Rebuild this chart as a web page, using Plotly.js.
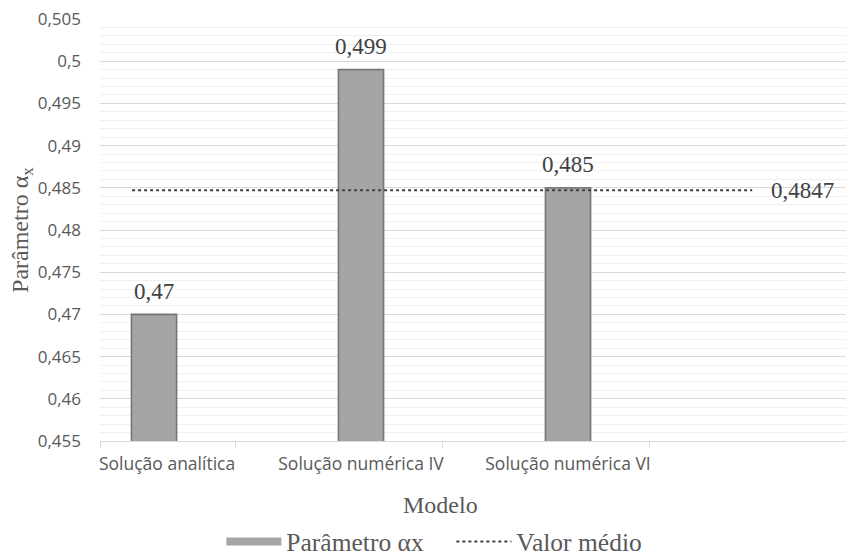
<!DOCTYPE html>
<html>
<head>
<meta charset="utf-8">
<script src="https://cdn.plot.ly/plotly-3.0.1.min.js"></script>
<style>html,body{margin:0;padding:0;background:#fff;}#chart{width:846px;height:558px;}</style>
</head>
<body>
<div id="chart"></div>
<script>
// ---- data ----
const categories = ["Solução analítica", "Solução numérica IV", "Solução numérica VI"];
const alphaValues = [0.47, 0.499, 0.485];
const meanValue = 0.4847;
const barSeriesName = "Parâmetro αx";
const meanSeriesName = "Valor médio";

// ---- layout helpers (positions/styles only) ----
const catPos = categories.map((c, i) => i);
const labelPos = catPos.map((p, i) => i === 0 ? p + 0.063 : p);
const boundaryTicks = [-0.261].concat(catPos.map(p => p + 0.392));
const meanLineX = [-0.106, categories.length - 0.11];
const fmt = v => String(v).replace('.', ',');

const serif = "'Liberation Serif', 'Times New Roman', serif";
const sans = "'Open Sans', 'Noto Sans', sans-serif";
const barFill = '#a5a5a5';

const traces = [
  {
    type: 'bar',
    name: barSeriesName,
    x: catPos,
    y: alphaValues,
    width: 0.218,
    marker: {color: barFill, line: {color: '#767676', width: 1.6}},
    showlegend: false,
    hoverinfo: 'skip'
  },
  {
    // legend entry for the bars (wide flat swatch as in the original)
    type: 'scatter',
    mode: 'lines',
    name: barSeriesName,
    x: [null],
    y: [null],
    line: {color: barFill, width: 8},
    hoverinfo: 'skip'
  },
  {
    type: 'scatter',
    mode: 'lines',
    name: meanSeriesName,
    x: meanLineX,
    y: meanLineX.map(() => meanValue),
    line: {color: '#404040', width: 2, dash: 'dot'},
    hoverinfo: 'skip'
  }
];

const barLabels = alphaValues.map((v, i) => ({
  xref: 'x', yref: 'y',
  x: catPos[i], y: v,
  text: fmt(v),
  showarrow: false,
  xanchor: 'center', yanchor: 'middle',
  yshift: 23,
  font: {family: serif, size: 23, color: '#404040'}
}));

const layout = {
  width: 846,
  height: 558,
  margin: {l: 100, r: 0, t: 19, b: 117, autoexpand: false},
  paper_bgcolor: '#ffffff',
  plot_bgcolor: '#ffffff',
  separators: ', ',
  showlegend: true,
  bargap: 0,
  xaxis: {
    type: 'linear',
    range: [-0.261, 3.343],
    tickmode: 'array',
    tickvals: labelPos,
    ticktext: categories,
    ticks: '',
    showgrid: false,
    zeroline: false,
    showline: true,
    linecolor: '#d9d9d9',
    linewidth: 1,
    ticklabelstandoff: 7,
    tickfont: {family: sans, size: 17.5, color: '#595959'},
    minor: {tickmode: 'array', tickvals: boundaryTicks, ticks: 'outside', ticklen: 6, tickcolor: '#d9d9d9', showgrid: false},
    automargin: false,
    fixedrange: true
  },
  yaxis: {
    range: [0.455, 0.505],
    dtick: 0.005,
    tick0: 0.455,
    tickformat: '.3~f',
    showgrid: true,
    gridcolor: '#d9d9d9',
    gridwidth: 1,
    zeroline: false,
    showline: false,
    ticks: '',
    ticklabelstandoff: 18,
    tickfont: {family: sans, size: 17, color: '#595959'},
    minor: {dtick: 0.001, showgrid: true, gridcolor: '#f0f0f0', gridwidth: 1, ticks: ''},
    automargin: false,
    fixedrange: true
  },
  legend: {
    orientation: 'h',
    xref: 'paper',
    x: 0.471,
    xanchor: 'center',
    yref: 'container',
    y: 0.029,
    yanchor: 'middle',
    font: {family: serif, size: 25.5, color: '#595959'},
    itemwidth: 55,
    entrywidth: 160,
    tracegroupgap: 0,
    bgcolor: 'rgba(0,0,0,0)'
  },
  annotations: barLabels.concat([
    {
      xref: 'x', yref: 'y',
      x: meanLineX[1] + 0.245, y: meanValue,
      text: fmt(meanValue),
      showarrow: false,
      xanchor: 'center', yanchor: 'middle',
      font: {family: serif, size: 23, color: '#404040'}
    },
    {
      xref: 'paper', yref: 'paper',
      x: 0.456, y: -0.152,
      text: 'Modelo',
      showarrow: false,
      xanchor: 'center', yanchor: 'middle',
      font: {family: serif, size: 24, color: '#595959'}
    },
    {
      xref: 'paper', yref: 'paper',
      x: -0.1046, y: 0.5,
      text: 'Parâmetro α<sub>x</sub>',
      textangle: -90,
      showarrow: false,
      xanchor: 'center', yanchor: 'middle',
      font: {family: serif, size: 24, color: '#595959'}
    }
  ])
};

Plotly.newPlot('chart', traces, layout, {displayModeBar: false, staticPlot: true});
</script>
</body>
</html>
